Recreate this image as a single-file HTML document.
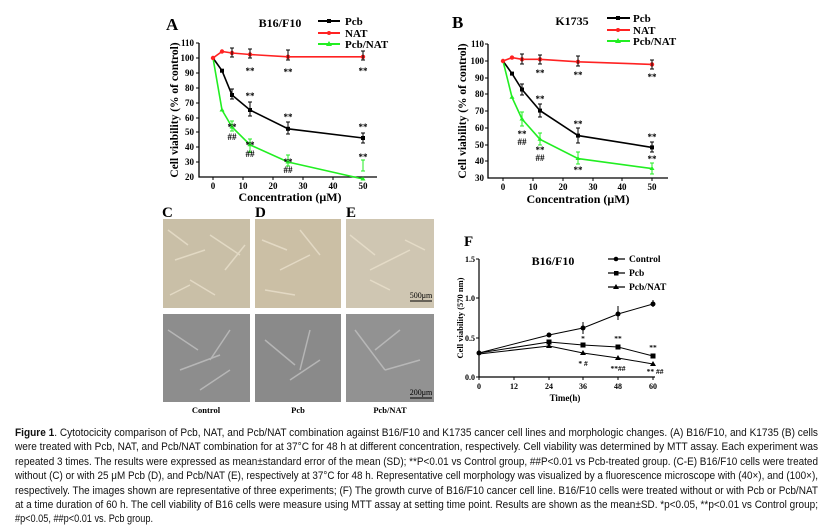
<!DOCTYPE html>
<html><head><meta charset="utf-8"><style>
html,body{margin:0;padding:0;background:#fff;}
svg{display:block;}
.s{font-family:"Liberation Serif",serif;font-weight:bold;}
.t{font-family:"Liberation Sans",sans-serif;}
</style></head><body>
<svg width="831" height="527" viewBox="0 0 831 527" xmlns="http://www.w3.org/2000/svg">
<!-- Panel A -->
<g class="s" font-size="9">
<text x="166" y="30" font-size="17">A</text>
<text x="280" y="27" font-size="12" text-anchor="middle">B16/F10</text>
<line x1="318" y1="21" x2="340" y2="21" stroke="#000" stroke-width="2"/><rect x="327" y="19" width="4" height="4"/>
<text x="345" y="25" font-size="11">Pcb</text>
<line x1="318" y1="33" x2="340" y2="33" stroke="#f22" stroke-width="2"/><circle cx="329" cy="33" r="2" fill="#f22"/>
<text x="345" y="37" font-size="11">NAT</text>
<line x1="318" y1="44" x2="340" y2="44" stroke="#2e2" stroke-width="2"/><path d="M329 41 L332 46 L326 46Z" fill="#2e2"/>
<text x="345" y="48" font-size="11">Pcb/NAT</text>
<path d="M199 43 V177 H377" fill="none" stroke="#000" stroke-width="1.3"/>
<g font-size="9" text-anchor="end">
<text x="194" y="46">110</text><text x="194" y="61">100</text><text x="194" y="76">90</text><text x="194" y="91">80</text><text x="194" y="106">70</text><text x="194" y="121">60</text><text x="194" y="135">50</text><text x="194" y="150">40</text><text x="194" y="165">30</text><text x="194" y="180">20</text>
</g>
<path d="M199 43h-3M199 58h-3M199 73h-3M199 88h-3M199 103h-3M199 118h-3M199 132h-3M199 147h-3M199 162h-3M213 177v3M243 177v3M273 177v3M303 177v3M333 177v3M363 177v3" stroke="#000"/>
<g font-size="9" text-anchor="middle"><text x="213" y="189">0</text><text x="243" y="189">10</text><text x="273" y="189">20</text><text x="303" y="189">30</text><text x="333" y="189">40</text><text x="363" y="189">50</text></g>
<text x="290" y="201" font-size="12" text-anchor="middle">Concentration (μM)</text>
<text transform="translate(178,110) rotate(-90)" font-size="11.5" text-anchor="middle">Cell viability (% of control)</text>
<polyline points="213,58 222,51.5 232,53 250,54.5 288,56.8 363,56.8" fill="none" stroke="#f22" stroke-width="1.6"/>
<polyline points="213,58 222,70.7 232,95 250,110 288,128.8 363,138" fill="none" stroke="#000" stroke-width="1.6"/>
<polyline points="213,58 222,110 232,127 250,144.8 288,162 363,179" fill="none" stroke="#2e2" stroke-width="1.6"/>
<g fill="#f22"><circle cx="213" cy="58" r="2.2"/><circle cx="222" cy="51.5" r="2.2"/><circle cx="232" cy="53" r="2.2"/><circle cx="250" cy="54.5" r="2.2"/><circle cx="288" cy="56.8" r="2.2"/><circle cx="363" cy="56.8" r="2.2"/></g>
<g><rect x="220" y="68.7" width="4" height="4"/><rect x="230" y="93" width="4" height="4"/><rect x="248" y="108" width="4" height="4"/><rect x="286" y="126.8" width="4" height="4"/><rect x="361" y="136" width="4" height="4"/></g>
<g fill="#2e2"><path d="M222 107.5l2.5 4h-5zM232 124.5l2.5 4h-5zM250 142.3l2.5 4h-5zM288 159.5l2.5 4h-5zM363 176.5l2.5 4h-5z"/></g>
<path d="M232 48v9M250 49v9M288 50v10M363 51v9M232 89v10M250 102v14M288 122v12M363 133v10M230 48h4M230 57h4M248 49h4M248 58h4M286 50h4M286 60h4M361 51h4M361 60h4M230 89h4M230 99h4M248 102h4M248 116h4M286 122h4M286 134h4M361 133h4M361 143h4" stroke="#000" stroke-width="1"/>
<path d="M232 121v10M250 139v13M288 155v11M363 160v11M230 121h4M230 131h4M248 139h4M248 152h4M286 155h4M286 166h4M361 160h4M361 171h4" stroke="#2e2" stroke-width="1"/>
<g font-size="9" text-anchor="middle"><text x="250" y="74">**</text><text x="288" y="75">**</text><text x="363" y="74">**</text>
<text x="250" y="99">**</text><text x="288" y="120">**</text><text x="363" y="130">**</text><text x="363" y="160">**</text>
<text x="232" y="130">**</text><text x="232" y="140">##</text><text x="250" y="148">**</text><text x="250" y="157">##</text><text x="288" y="165">**</text><text x="288" y="173">##</text></g>
</g>
<!-- Panel B -->
<g class="s" font-size="9">
<text x="452" y="28" font-size="17">B</text>
<text x="572" y="25" font-size="12" text-anchor="middle">K1735</text>
<line x1="607" y1="18" x2="630" y2="18" stroke="#000" stroke-width="2"/><rect x="616" y="16" width="4" height="4"/>
<text x="633" y="22" font-size="11">Pcb</text>
<line x1="607" y1="30" x2="630" y2="30" stroke="#f22" stroke-width="2"/><circle cx="618" cy="30" r="2" fill="#f22"/>
<text x="633" y="34" font-size="11">NAT</text>
<line x1="607" y1="41" x2="630" y2="41" stroke="#2e2" stroke-width="2"/><path d="M618 38 L621 43 L615 43Z" fill="#2e2"/>
<text x="633" y="45" font-size="11">Pcb/NAT</text>
<path d="M488 44 V178 H668" fill="none" stroke="#000" stroke-width="1.3"/>
<g text-anchor="end"><text x="484" y="47">110</text><text x="484" y="64">100</text><text x="484" y="81">90</text><text x="484" y="97">80</text><text x="484" y="114">70</text><text x="484" y="131">60</text><text x="484" y="148">50</text><text x="484" y="164">40</text><text x="484" y="181">30</text></g>
<path d="M488 44h-3M488 61h-3M488 78h-3M488 94h-3M488 111h-3M488 128h-3M488 145h-3M488 161h-3M503 178v3M533 178v3M563 178v3M593 178v3M622 178v3M652 178v3" stroke="#000"/>
<g text-anchor="middle"><text x="503" y="190">0</text><text x="533" y="190">10</text><text x="563" y="190">20</text><text x="593" y="190">30</text><text x="622" y="190">40</text><text x="652" y="190">50</text></g>
<text x="578" y="203" font-size="12" text-anchor="middle">Concentration (μM)</text>
<text transform="translate(466,111) rotate(-90)" font-size="11.5" text-anchor="middle">Cell viability (% of control)</text>
<polyline points="503,61 512,57.6 522,59.3 540,59.3 578,61.8 652,64.4" fill="none" stroke="#f22" stroke-width="1.6"/>
<polyline points="503,61 512,73.6 522,89.5 540,110.6 578,135.6 652,147.4" fill="none" stroke="#000" stroke-width="1.6"/>
<polyline points="503,61 512,97.3 522,119 540,139.3 578,158.6 652,168.6" fill="none" stroke="#2e2" stroke-width="1.6"/>
<g fill="#f22"><circle cx="503" cy="61" r="2.2"/><circle cx="512" cy="57.6" r="2.2"/><circle cx="522" cy="59.3" r="2.2"/><circle cx="540" cy="59.3" r="2.2"/><circle cx="578" cy="61.8" r="2.2"/><circle cx="652" cy="64.4" r="2.2"/></g>
<g><rect x="510" y="71.6" width="4" height="4"/><rect x="520" y="87.5" width="4" height="4"/><rect x="538" y="108.6" width="4" height="4"/><rect x="576" y="133.6" width="4" height="4"/><rect x="650" y="145.4" width="4" height="4"/></g>
<g fill="#2e2"><path d="M512 94.8l2.5 4h-5zM522 116.5l2.5 4h-5zM540 136.8l2.5 4h-5zM578 156l2.5 4h-5zM652 166l2.5 4h-5z"/></g>
<path d="M522 54v10M540 55v9M578 56v10M652 60v9M522 84v11M540 104v13M578 128v15M652 142v10M520 54h4M520 64h4M538 55h4M538 64h4M576 56h4M576 66h4M650 60h4M650 69h4M520 84h4M520 95h4M538 104h4M538 117h4M576 128h4M576 143h4M650 142h4M650 152h4" stroke="#000"/>
<path d="M522 112v14M540 133v12M578 152v12M652 163v11M520 112h4M520 126h4M538 133h4M538 145h4M576 152h4M576 164h4M650 163h4M650 174h4" stroke="#2e2"/>
<g text-anchor="middle"><text x="540" y="76">**</text><text x="578" y="78">**</text><text x="652" y="80">**</text>
<text x="540" y="102">**</text><text x="578" y="127">**</text><text x="652" y="140">**</text><text x="652" y="162">**</text><text x="578" y="173">**</text>
<text x="522" y="137">**</text><text x="522" y="145">##</text><text x="540" y="153">**</text><text x="540" y="161">##</text></g>
</g>
<!-- Images -->
<g class="s">
<text x="162" y="217" font-size="15">C</text><text x="255" y="217" font-size="15">D</text><text x="346" y="217" font-size="15">E</text>
</g>
<rect x="163" y="219" width="87" height="89" fill="#c9bfa7"/>
<rect x="255" y="219" width="86" height="89" fill="#cbbfa5"/>
<rect x="346" y="219" width="88" height="89" fill="#cfc6b2"/>
<rect x="163" y="314" width="87" height="88" fill="#8d8d8d"/>
<rect x="255" y="314" width="86" height="88" fill="#8a8a8a"/>
<rect x="346" y="314" width="88" height="88" fill="#929292"/>
<g stroke="#e8e0cc" stroke-width="1.5" opacity="0.8" fill="none">
<path d="M168 230l20 15M175 260l30-10M190 280l25 15M210 235l30 20M225 270l20-25M170 295l20-10M262 240l25 10M280 270l30-15M300 230l20 25M265 290l30 5M350 235l25 20M370 270l40-20M390 290l-20-10M405 240l20 10"/>
</g>
<g stroke="#c8c8c8" stroke-width="1.5" opacity="0.7" fill="none">
<path d="M168 330l30 20M180 370l40-15M200 390l30-20M230 330l-20 30M265 340l30 25M290 380l30-20M310 330l-10 40M355 330l30 40M385 370l35-10M400 330l-25 20"/>
</g>
<text x="421" y="298" font-family="Liberation Serif,serif" font-size="8" text-anchor="middle">500μm</text>
<line x1="410" y1="301" x2="432" y2="301" stroke="#000"/>
<text x="421" y="395" font-family="Liberation Serif,serif" font-size="8" text-anchor="middle">200μm</text>
<line x1="410" y1="398" x2="432" y2="398" stroke="#000"/>
<g class="s" font-size="8.5" text-anchor="middle"><text x="206" y="413">Control</text><text x="298" y="413">Pcb</text><text x="390" y="413">Pcb/NAT</text></g>
<!-- Panel F -->
<g class="s" font-size="8">
<text x="464" y="246" font-size="15">F</text>
<text x="553" y="265" font-size="12" text-anchor="middle">B16/F10</text>
<line x1="608" y1="259" x2="625" y2="259" stroke="#000" stroke-width="1.3"/><circle cx="616" cy="259" r="2.3"/>
<text x="629" y="262" font-size="9.5">Control</text>
<line x1="608" y1="273" x2="625" y2="273" stroke="#000" stroke-width="1.3"/><rect x="614" y="271" width="4.5" height="4.5"/>
<text x="629" y="276" font-size="9.5">Pcb</text>
<line x1="608" y1="287" x2="625" y2="287" stroke="#000" stroke-width="1.3"/><path d="M616 284 L619 289 L613 289Z"/>
<text x="629" y="290" font-size="9.5">Pcb/NAT</text>
<path d="M479 259 V377 H655" fill="none" stroke="#000" stroke-width="1.2"/>
<g text-anchor="end"><text x="475" y="262">1.5</text><text x="475" y="301">1.0</text><text x="475" y="341">0.5</text><text x="475" y="380">0.0</text></g>
<path d="M479 259h-3M479 298h-3M479 338h-3M479 377h-3M479 377v3M514 377v3M549 377v3M583 377v3M618 377v3M653 377v3" stroke="#000"/>
<g text-anchor="middle"><text x="479" y="389">0</text><text x="514" y="389">12</text><text x="549" y="389">24</text><text x="583" y="389">36</text><text x="618" y="389">48</text><text x="653" y="389">60</text></g>
<text x="565" y="401" font-size="9" text-anchor="middle">Time(h)</text>
<text transform="translate(463,318) rotate(-90)" font-size="8.5" text-anchor="middle">Cell viability (570 nm)</text>
<polyline points="479,353 549,335 583,328 618,314 653,304" fill="none" stroke="#000" stroke-width="1"/>
<polyline points="479,353 549,342 583,345 618,347 653,356" fill="none" stroke="#000" stroke-width="1"/>
<polyline points="479,354 549,346 583,353 618,358 653,364" fill="none" stroke="#000" stroke-width="1"/>
<g><circle cx="479" cy="353" r="2.5"/><circle cx="549" cy="335" r="2.5"/><circle cx="583" cy="328" r="2.5"/><circle cx="618" cy="314" r="2.5"/><circle cx="653" cy="304" r="2.5"/>
<rect x="546.5" y="339.5" width="5" height="5"/><rect x="580.5" y="342.5" width="5" height="5"/><rect x="615.5" y="344.5" width="5" height="5"/><rect x="650.5" y="353.5" width="5" height="5"/>
<path d="M549 343l3 5h-6zM583 350l3 5h-6zM618 355l3 5h-6zM653 361l3 5h-6z"/></g>
<path d="M583 322v12M618 306v14M653 300v7" stroke="#000"/>
<g text-anchor="middle" font-size="7.5"><text x="583" y="341">*</text><text x="618" y="341">**</text><text x="653" y="350">**</text><text x="583" y="366">* #</text><text x="618" y="371">**##</text><text x="655" y="374">** ##</text></g>
</g>
<!-- Caption -->
<g class="t" font-size="11" fill="#111">
<text x="15" y="436" textLength="803" lengthAdjust="spacingAndGlyphs"><tspan font-weight="bold">Figure 1</tspan>. Cytotocicity comparison of Pcb, NAT, and Pcb/NAT combination against B16/F10 and K1735 cancer cell lines and morphologic changes. (A) B16/F10, and K1735 (B) cells</text>
<text x="15" y="450" textLength="803" lengthAdjust="spacingAndGlyphs">were treated with Pcb, NAT, and Pcb/NAT combination for at 37°C for 48 h at different concentration, respectively. Cell viability was determined by MTT assay. Each experiment was</text>
<text x="15" y="465" textLength="803" lengthAdjust="spacingAndGlyphs">repeated 3 times. The results were expressed as mean±standard error of the mean (SD); **P&lt;0.01 vs Control group, ##P&lt;0.01 vs Pcb-treated group. (C-E) B16/F10 cells were treated</text>
<text x="15" y="479" textLength="803" lengthAdjust="spacingAndGlyphs">without (C) or with 25 μM Pcb (D), and Pcb/NAT (E), respectively at 37°C for 48 h. Representative cell morphology was visualized by a fluorescence microscope with (40×), and (100×),</text>
<text x="15" y="494" textLength="803" lengthAdjust="spacingAndGlyphs">respectively. The images shown are representative of three experiments; (F) The growth curve of B16/F10 cancer cell line. B16/F10 cells were treated without or with Pcb or Pcb/NAT</text>
<text x="15" y="508" textLength="803" lengthAdjust="spacingAndGlyphs">at a time duration of 60 h. The cell viability of B16 cells were measure using MTT assay at setting time point. Results are shown as the mean±SD. *p&lt;0.05, **p&lt;0.01 vs Control group;</text>
<text x="15" y="522" textLength="138" lengthAdjust="spacingAndGlyphs">#p&lt;0.05, ##p&lt;0.01 vs. Pcb group.</text>
</g>
</svg>
</body></html>
